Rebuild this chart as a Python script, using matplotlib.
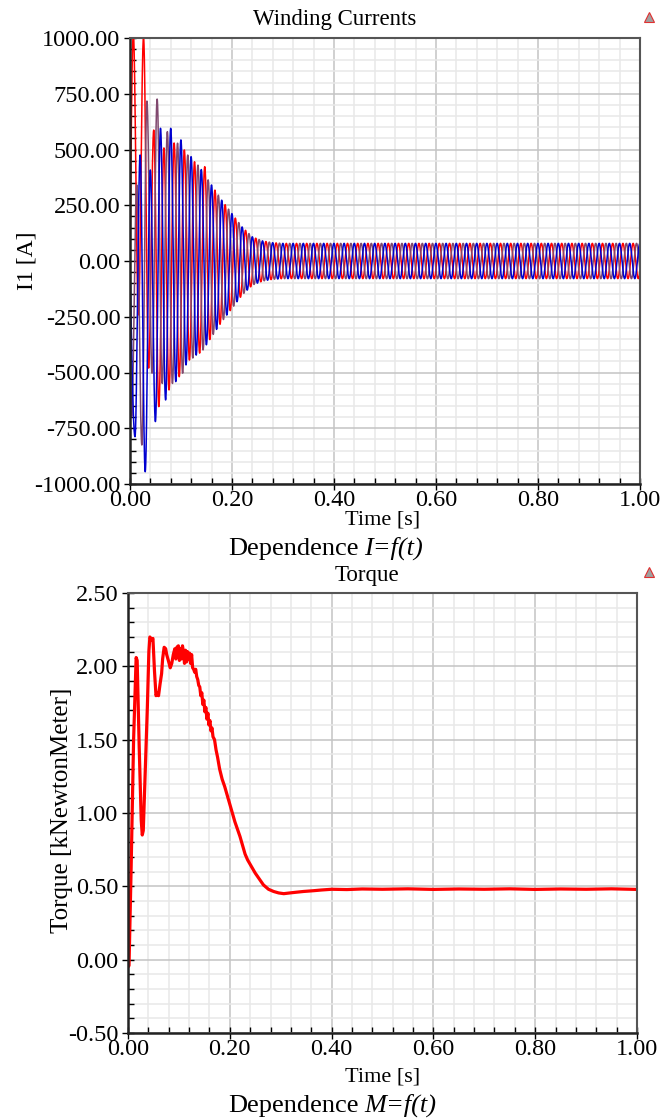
import numpy as np
import matplotlib
matplotlib.use("Agg")
import matplotlib.pyplot as plt
from matplotlib.ticker import MultipleLocator, FormatStrFormatter
from matplotlib.lines import Line2D

plt.rcParams['font.family'] = ['Liberation Serif', 'DejaVu Serif']

# ---- winding currents (50 Hz), extremes ----
half_period = 0.01
red_t0 = 0.0065
red_peaks = [1020, -242, 1005, -480, 587, -653, 507, -578, 529, -519,
             498, -444, 445, -413, 423]
purple_t0 = 0.0032
purple_peaks = [-698, 341, -825, 717, -503, 726, -549, 580, -549, 528,
                -503, 475, -435, 430]
blue_t0 = 0.0098
blue_peaks = [-788, 475, -945, 408, -720, 595, -623, 595, -541, 543,
              -466, 468, -422, 410]

# amplitude envelope after the listed extremes
env_t = [0.14, 0.16, 0.18, 0.20, 0.22, 0.24, 0.26, 0.28, 0.30, 1.00]
env_a = [410, 340, 272, 212, 152, 108, 90, 82, 79, 79]

# ---- torque ----
torque_t = [0.000, 0.002, 0.006, 0.011, 0.016, 0.018, 0.022, 0.026, 0.028, 0.030,
            0.034, 0.038, 0.041, 0.043, 0.047, 0.049, 0.052, 0.055, 0.058, 0.060,
            0.063, 0.066, 0.068, 0.071, 0.074, 0.076, 0.080, 0.083, 0.086, 0.089,
            0.092, 0.094, 0.096, 0.099, 0.101, 0.103, 0.105, 0.107, 0.109, 0.111,
            0.113, 0.115, 0.117, 0.119, 0.121, 0.123, 0.125, 0.127, 0.129, 0.131,
            0.133, 0.135, 0.137, 0.139, 0.141, 0.143, 0.145, 0.147, 0.149, 0.151,
            0.153, 0.155, 0.157, 0.159, 0.161, 0.163, 0.165, 0.167, 0.170, 0.173,
            0.176, 0.180, 0.185, 0.190, 0.195, 0.200, 0.205, 0.210, 0.215, 0.220,
            0.225, 0.230, 0.235, 0.240, 0.245, 0.250, 0.258, 0.266, 0.276, 0.286,
            0.296, 0.306, 0.318, 0.331, 0.345, 0.364, 0.380, 0.400, 0.430, 0.460,
            0.500, 0.550, 0.600, 0.650, 0.700, 0.750, 0.800, 0.850, 0.900, 0.950,
            1.000]
torque_m = [-0.05, -0.04, 0.60, 1.50, 2.06, 2.04, 1.45, 0.95, 0.85, 0.88,
            1.30, 1.72, 2.10, 2.20, 2.18, 2.19, 1.97, 1.80, 1.82, 1.80,
            1.88, 1.95, 2.05, 2.13, 2.12, 2.08, 2.03, 1.99, 2.02, 2.08,
            2.12, 2.05, 2.13, 2.14, 2.04, 2.12, 2.05, 2.14, 2.10, 2.02,
            2.11, 2.03, 2.10, 2.05, 2.09, 2.02, 2.08, 1.99, 1.98, 1.96,
            1.98, 1.93, 1.91, 1.87, 1.86, 1.80, 1.82, 1.74, 1.77, 1.69,
            1.72, 1.64, 1.68, 1.60, 1.63, 1.56, 1.58, 1.52, 1.50, 1.43,
            1.38, 1.30, 1.23, 1.18, 1.12, 1.06, 1.00, 0.94, 0.89, 0.84,
            0.78, 0.72, 0.68, 0.65, 0.62, 0.59, 0.55, 0.51, 0.48, 0.465,
            0.455, 0.45, 0.455, 0.46, 0.465, 0.47, 0.475, 0.48, 0.478, 0.482,
            0.48, 0.483, 0.479, 0.482, 0.48, 0.483, 0.479, 0.482, 0.48, 0.483,
            0.479]


def winding(t0, peaks, t):
    n = int((1.02 - t0) / half_period) + 2
    tk = t0 + half_period * np.arange(n)
    vk = np.zeros(n)
    vk[:len(peaks)] = peaks
    sign = np.sign(peaks[-1])
    for k in range(len(peaks), n):
        sign = -sign
        vk[k] = sign * np.interp(tk[k], env_t, env_a)
    i = np.clip(np.searchsorted(tk, t) - 1, 0, n - 2)
    ph = (t - tk[i]) / half_period
    v = (vk[i] + vk[i + 1]) / 2 + (vk[i] - vk[i + 1]) / 2 * np.cos(np.pi * ph)
    pre = t < t0
    v[pre] = vk[0] * np.sin(np.pi / 2 * t[pre] / t0)
    return v


def style_axes(ax, ymaj, ymin):
    ax.set_xlim(0, 1)
    ax.xaxis.set_major_locator(MultipleLocator(0.2))
    ax.xaxis.set_minor_locator(MultipleLocator(0.04))
    ax.yaxis.set_major_locator(MultipleLocator(ymaj))
    ax.yaxis.set_minor_locator(MultipleLocator(ymin))
    ax.xaxis.set_major_formatter(FormatStrFormatter('%.2f'))
    ax.yaxis.set_major_formatter(FormatStrFormatter('%.2f'))
    ax.grid(which='major', color='#c4c4c4', linewidth=1.1)
    ax.grid(which='minor', color='#e8e8e8', linewidth=1.1)
    ax.set_axisbelow(True)
    ax.tick_params(which='major', direction='inout', length=8, width=1,
                   labelsize=17.5)
    ax.tick_params(axis='y', which='major', pad=3)
    ax.tick_params(axis='x', which='major', pad=0)
    ax.tick_params(which='minor', direction='in', length=4, width=1)
    for s in ['top', 'right']:
        ax.spines[s].set_color('#555555')
        ax.spines[s].set_linewidth(1.5)
    for s in ['left', 'bottom']:
        ax.spines[s].set_color('#222222')
        ax.spines[s].set_linewidth(1.8)


W, H = 672, 1119
fig = plt.figure(figsize=(W / 100, H / 100), dpi=100)


def fx(px):
    return px / W


def fy(py):
    return 1 - py / H


t = np.linspace(0, 1, 6001)

# top panel
ax1 = fig.add_axes([fx(130), fy(484), fx(510), 446 / H])
ax1.plot(t, winding(red_t0, red_peaks, t), color='#ff0000', linewidth=1.1)
ax1.plot(t, winding(purple_t0, purple_peaks, t), color='#80486e', linewidth=1.1)
ax1.plot(t, winding(blue_t0, blue_peaks, t), color='#0000d0', linewidth=1.1)
ax1.set_ylim(-1000, 1000)
style_axes(ax1, 250, 50)

# bottom panel
ax2 = fig.add_axes([fx(128), fy(1033), fx(509), 440 / H])
ax2.plot(torque_t, torque_m, color='#ff0000', linewidth=2.3)
ax2.set_ylim(-0.5, 2.5)
style_axes(ax2, 0.5, 0.1)

# texts
fig.text(fx(335), fy(19), 'Winding Currents', ha='center', va='center', fontsize=16.5)
fig.text(fx(27), fy(261), 'I1 [A]', ha='center', va='center', rotation=90, fontsize=17)
fig.text(fx(383), fy(520), 'Time [s]', ha='center', va='center', fontsize=16)
fig.text(fx(359), fy(555), 'Dependence', ha='right', va='baseline', fontsize=19)
fig.text(fx(364), fy(555), 'I=f(t)', ha='left', va='baseline', fontsize=19,
         style='italic')

fig.text(fx(367), fy(575), 'Torque', ha='center', va='center', fontsize=16.5)
fig.text(fx(62), fy(810), 'Torque [kNewtonMeter]', ha='center', va='center',
         rotation=90, fontsize=18)
fig.text(fx(383), fy(1077), 'Time [s]', ha='center', va='center', fontsize=16)
fig.text(fx(359), fy(1112), 'Dependence', ha='right', va='baseline', fontsize=19)
fig.text(fx(364), fy(1112), 'M=f(t)', ha='left', va='baseline', fontsize=19,
         style='italic')

# small logo marks in the top right corners
for py in (17, 572):
    fig.add_artist(Line2D([fx(649)], [fy(py)], marker='^', markersize=7,
                          color='#a0a0a0', markeredgecolor='#e03030',
                          markeredgewidth=0.8, transform=fig.transFigure))

fig.savefig('out.png', dpi=100)
